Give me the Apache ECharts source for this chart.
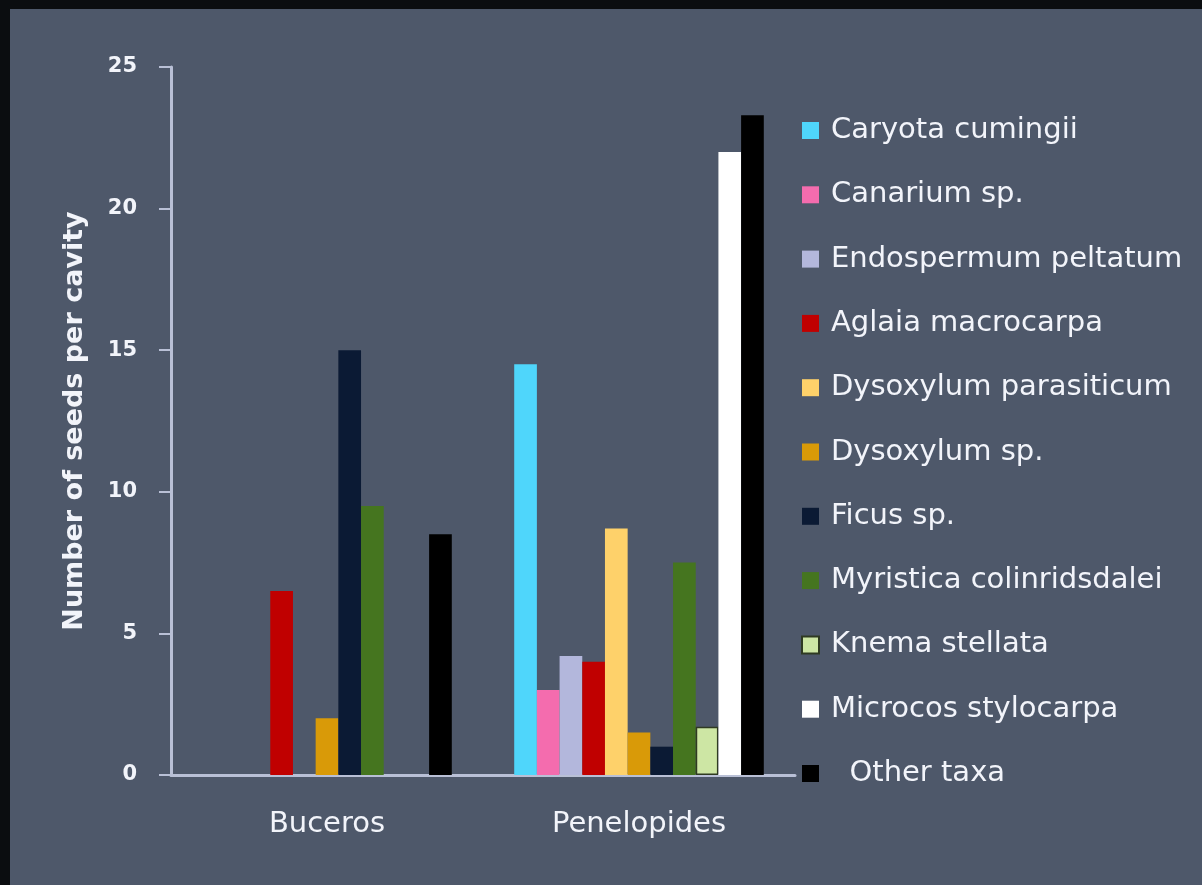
<!DOCTYPE html>
<html>
<head>
<meta charset="utf-8">
<title>Seeds per cavity</title>
<script src="https://cdn.jsdelivr.net/npm/echarts@6/dist/echarts.min.js"></script>
<style>
  html, body { margin: 0; padding: 0; background: #0b0d10; }
  #wrap { position: relative; width: 1202px; height: 885px; background: #0b0d10; overflow: hidden; }
  #chart { position: absolute; left: 10px; top: 9px; width: 1192px; height: 876px; }
</style>
</head>
<body>
<div id="wrap"><div id="chart"></div></div>
<script>
// birds (x categories)
const categories = ['Buceros', 'Penelopides'];

// plant taxa, in legend order
const taxa = [
  'Caryota cumingii',
  'Canarium sp.',
  'Endospermum peltatum',
  'Aglaia macrocarpa',
  'Dysoxylum parasiticum',
  'Dysoxylum sp.',
  'Ficus sp.',
  'Myristica colinridsdalei',
  'Knema stellata',
  'Microcos stylocarpa',
  'Other taxa'
];

// seeds per cavity, one value per taxon (null = not recorded)
const bucerosValues = [null, null, null, 6.5, null, 2, 15, 9.5, null, null, 8.5];
const penelopidesValues = [14.5, 3, 4.2, 4, 8.7, 1.5, 1, 7.5, 1.7, 22, 23.3];

const taxaColors = [
  '#4fd6fb', '#f46cae', '#b3b7dc', '#c00000', '#fed16a', '#d99a08',
  '#0b1a34', '#45751f', '#cde6a4', '#ffffff', '#000000'
];

const yTicks = [0, 5, 10, 15, 20, 25];

const axisColor = '#b9c0d6';
const textColor = '#f2f4fa';

const chart = echarts.init(document.getElementById('chart'));

const series = taxa.map((name, i) => ({
  name: name,
  type: 'bar',
  barGap: '0%',
  barCategoryGap: '20%',
  data: [bucerosValues[i], penelopidesValues[i]],
  itemStyle: {
    color: taxaColors[i],
    borderColor: name === 'Knema stellata' ? '#2f3a22' : undefined,
    borderWidth: name === 'Knema stellata' ? 1.5 : 0
  }
}));

chart.setOption({
  backgroundColor: '#4e586a',
  animation: false,
  grid: { left: 161, top: 58, width: 624, height: 708, containLabel: false },
  legend: {
    orient: 'vertical',
    left: 786,
    top: 102,
    itemWidth: 17,
    itemHeight: 17,
    itemGap: 35.3,
    icon: 'rect',
    data: taxa,
    formatter: name => (name === 'Other taxa' ? '  ' + name : name),
    textStyle: {
      color: textColor,
      fontFamily: 'DejaVu Sans',
      fontSize: 29,
      lineHeight: 29,
      padding: [0, 0, 0, 7]
    }
  },
  xAxis: {
    type: 'category',
    data: categories,
    axisLine: { show: true, lineStyle: { color: axisColor, width: 3 } },
    axisTick: { show: false },
    axisLabel: {
      color: textColor,
      fontFamily: 'DejaVu Sans',
      fontSize: 29,
      margin: 35
    },
    splitLine: { show: false }
  },
  yAxis: {
    type: 'value',
    min: yTicks[0],
    max: yTicks[yTicks.length - 1],
    interval: 5,
    name: 'Number of seeds per cavity',
    nameLocation: 'middle',
    nameGap: 83,
    nameTextStyle: {
      color: textColor,
      fontFamily: 'DejaVu Sans',
      fontWeight: 'bold',
      fontSize: 27
    },
    axisLine: { show: true, lineStyle: { color: axisColor, width: 3 } },
    axisTick: { show: true, length: 12, lineStyle: { color: axisColor, width: 2 } },
    axisLabel: {
      color: textColor,
      fontFamily: 'DejaVu Sans',
      fontWeight: 'bold',
      fontSize: 21,
      margin: 34
    },
    splitLine: { show: false }
  },
  series: series
});
</script>
</body>
</html>
